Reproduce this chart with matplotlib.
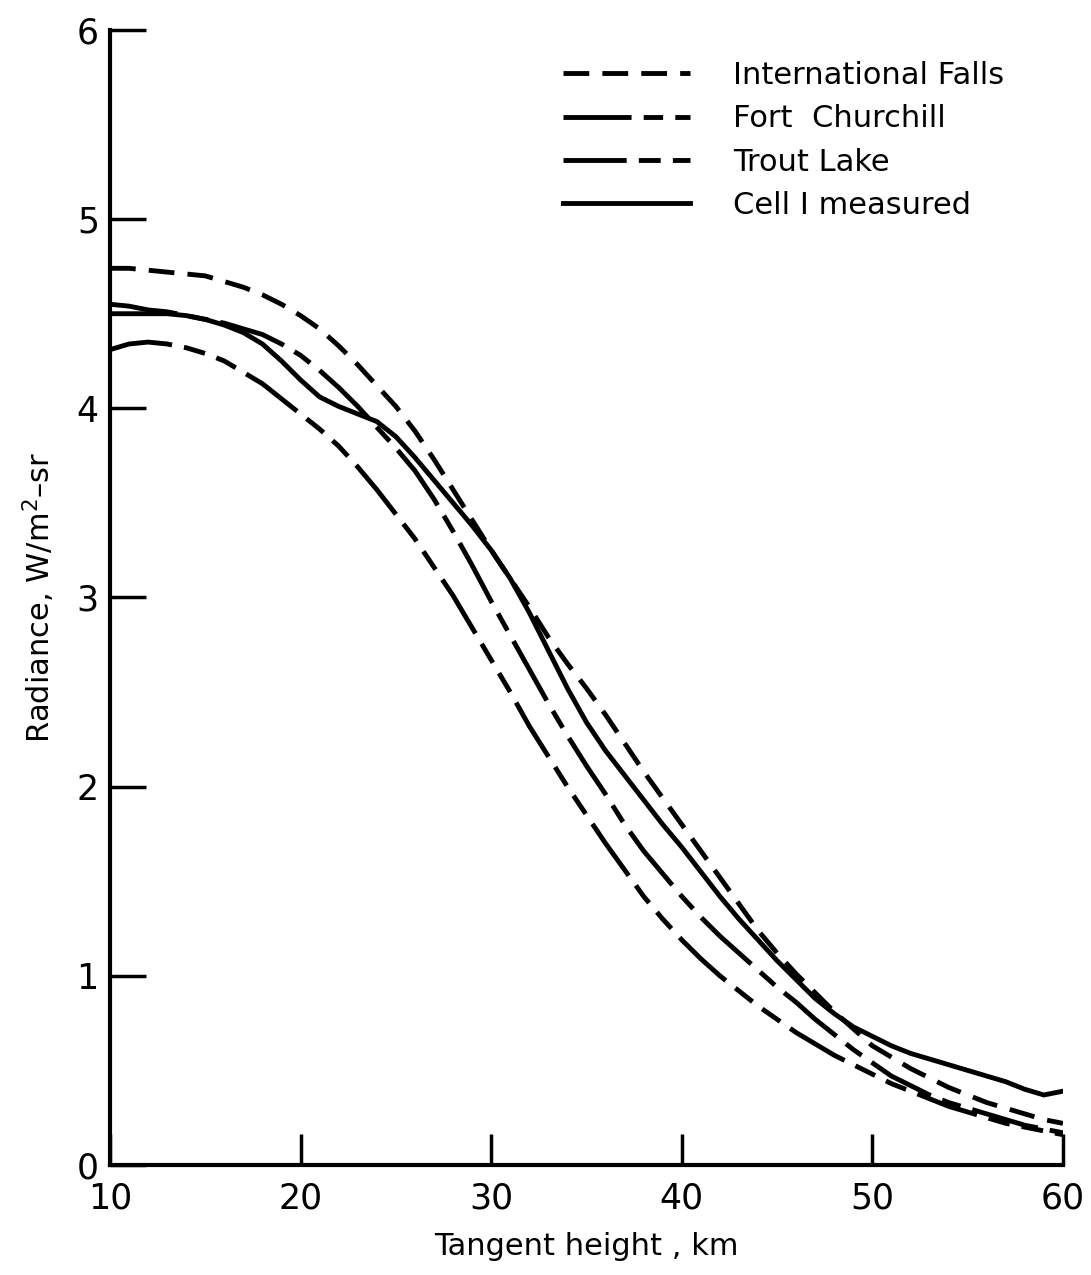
import matplotlib
matplotlib.use("Agg")
import matplotlib.pyplot as plt

# tangent height (km) and radiance (W/m^2-sr)
heights = list(range(10, 61))

y_if = [4.74, 4.74, 4.73, 4.72, 4.71, 4.70, 4.67, 4.64, 4.60, 4.55,
        4.49, 4.42, 4.33, 4.23, 4.12, 4.01, 3.88, 3.73, 3.57, 3.41,
        3.25, 3.10, 2.95, 2.79, 2.65, 2.52, 2.38, 2.23, 2.08, 1.94,
        1.80, 1.66, 1.52, 1.38, 1.24, 1.12, 1.01, 0.91, 0.81, 0.72,
        0.63, 0.57, 0.51, 0.46, 0.41, 0.37, 0.33, 0.30, 0.27, 0.24, 0.22]

y_fc = [4.55, 4.54, 4.52, 4.51, 4.49, 4.47, 4.45, 4.42, 4.39, 4.34,
        4.28, 4.20, 4.11, 4.01, 3.90, 3.79, 3.67, 3.52, 3.35, 3.17,
        2.98, 2.80, 2.62, 2.44, 2.27, 2.11, 1.96, 1.80, 1.66, 1.54,
        1.42, 1.31, 1.21, 1.12, 1.03, 0.94, 0.86, 0.77, 0.69, 0.61,
        0.54, 0.47, 0.42, 0.37, 0.33, 0.30, 0.27, 0.24, 0.21, 0.19, 0.17]

y_tl = [4.31, 4.34, 4.35, 4.34, 4.32, 4.29, 4.25, 4.19, 4.13, 4.05,
        3.97, 3.89, 3.80, 3.69, 3.57, 3.44, 3.31, 3.16, 3.01, 2.84,
        2.67, 2.50, 2.32, 2.16, 2.00, 1.85, 1.70, 1.56, 1.42, 1.30,
        1.19, 1.09, 1.00, 0.92, 0.84, 0.77, 0.70, 0.64, 0.58, 0.53,
        0.48, 0.43, 0.39, 0.35, 0.31, 0.28, 0.25, 0.22, 0.20, 0.18, 0.16]

y_cell = [4.50, 4.50, 4.50, 4.50, 4.49, 4.47, 4.44, 4.40, 4.34, 4.25,
          4.15, 4.06, 4.01, 3.97, 3.93, 3.85, 3.74, 3.62, 3.50, 3.38,
          3.25, 3.10, 2.92, 2.72, 2.52, 2.34, 2.19, 2.06, 1.93, 1.80,
          1.68, 1.55, 1.42, 1.30, 1.19, 1.08, 0.98, 0.88, 0.80, 0.73,
          0.68, 0.63, 0.59, 0.56, 0.53, 0.50, 0.47, 0.44, 0.40, 0.37, 0.39]

labels = ["International Falls", "Fort  Churchill", "Trout Lake", "Cell I measured"]
xticks = [10, 20, 30, 40, 50, 60]
yticks = [0, 1, 2, 3, 4, 5, 6]

plt.rcParams['font.family'] = ['DejaVu Sans']

fig = plt.figure(figsize=(10.91, 12.75), dpi=100)
ax = fig.add_axes([0.1008, 0.0863, 0.8735, 0.8902])

lw = 3.5
ax.plot(heights, y_if, color="black", lw=lw, linestyle=(0, (5.3, 2.7)), label=labels[0])
ax.plot(heights, y_fc, color="black", lw=lw, linestyle=(0, (14, 2.5, 4, 2.5)), label=labels[1])
ax.plot(heights, y_tl, color="black", lw=lw, linestyle=(0, (13, 2.5, 4.5, 2.5, 4.5, 2.5)), label=labels[2])
ax.plot(heights, y_cell, color="black", lw=lw, linestyle="-", label=labels[3])

ax.set_xlim(10, 60)
ax.set_ylim(0, 6)
ax.set_xticks(xticks)
ax.set_yticks(yticks)
ax.spines["top"].set_visible(False)
ax.spines["right"].set_visible(False)
ax.spines["left"].set_linewidth(3)
ax.spines["bottom"].set_linewidth(3)
ax.tick_params(axis="y", direction="in", length=26, width=2.5, labelsize=25, pad=8)
ax.tick_params(axis="x", direction="in", length=22, width=2.5, labelsize=25, pad=12)

ax.set_xlabel("Tangent height , km", fontsize=22, labelpad=12)
ax.set_ylabel("Radiance, W/m$^2$–sr", fontsize=22, labelpad=14)

ax.legend(loc="upper left", bbox_to_anchor=(0.447, 0.997), frameon=False, fontsize=22,
          handlelength=4.15, handletextpad=1.4, labelspacing=0.47)

fig.savefig("out.png", dpi=100)
